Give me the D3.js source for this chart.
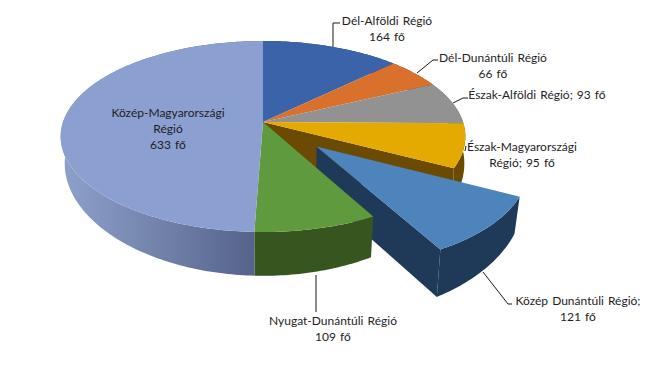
<!DOCTYPE html>
<html>
<head>
<meta charset="utf-8">
<script src="https://cdn.jsdelivr.net/npm/d3@7"></script>
<style>
	html, body { margin: 0; padding: 0; background: #fff; }
	svg { display: block; }
	text { font-family: Lato, "Open Sans", sans-serif; font-size: 12px; word-spacing: 1px; fill: #1d1d25; dominant-baseline: central; text-anchor: middle; }
</style>
</head>
<body>
<div id="chart"></div>
<script>
const regions = ['Dél-Alföldi Régió', 'Dél-Dunántúli Régió', 'Észak-Alföldi Régió', 'Észak-Magyarországi Régió', 'Közép Dunántúli Régió', 'Nyugat-Dunántúli Régió', 'Közép-Magyarországi Régió'];
const people = [164, 66, 93, 95, 121, 109, 633];
const topColors = ['#3a63a9', '#d9702b', '#929292', '#e5aa02', '#4d84bc', '#5f9a3e', '#8b9fd0'];
const sideColors = ['#23406e', '#8a4414', '#5c5c5c', '#6b4a02', '#1f3a58', '#37561f', 'url(#side-fade)'];
const explode = [0, 0, 0, 0, 0.36, 0, 0];

// label lines, one entry per region
const labelLines = [
	['Dél-Alföldi Régió', '164 fő'],
	['Dél-Dunántúli Régió', '66 fő'],
	['Észak-Alföldi Régió; 93 fő'],
	['Észak-Magyarországi', 'Régió; 95 fő'],
	['Közép Dunántúli Régió;', '121 fő'],
	['Nyugat-Dunántúli Régió', '109 fő'],
	['Közép-Magyarországi', 'Régió', '633 fő']
];
// where the labels sit, and their leader lines
const labelLayout = [
	{ x: 387, y: 20, leader: [[333, 47], [333, 23], [340, 23]] },
	{ x: 493, y: 57, leader: [[417, 73], [433, 60], [438, 60]] },
	{ x: 537, y: 94, leader: [[453, 103], [463, 98], [468, 98]] },
	{ x: 522, y: 146, leader: [[465, 151], [466, 146]] },
	{ x: 578, y: 300, leader: [[483, 272], [508, 304], [512, 304]] },
	{ x: 333, y: 320, leader: [[316, 275], [316, 312]] },
	{ x: 168, y: 112, leader: null }
];

const width = 645;
const height = 376;
const lineGap = 16;

// perspective of the tilted disc
const tilt = 0.152;
const depth = 25;
const depthPower = 3.4;
const apexDepth = 44;
const shrink = [0.98, 0.98, 0.98, 0.995, 0.98, 0.98, 0.98];

const x = d3.scaleLinear().domain([-1, 1]).range([63, 463]);
const y = d3.scaleLinear().domain([-1, 1]).range([28.7, 215.3]);

const svg = d3.select('#chart').append('svg')
	.attr('width', width)
	.attr('height', height);

const fade = svg.append('defs').append('linearGradient')
	.attr('id', 'side-fade')
	.attr('gradientUnits', 'userSpaceOnUse')
	.attr('x1', 60).attr('x2', 255).attr('y1', 0).attr('y2', 0);
fade.append('stop').attr('offset', 0).attr('stop-color', '#8fa2cc');
fade.append('stop').attr('offset', 1).attr('stop-color', '#55638a');

const slices = d3.pie().sort(null).value(d => d)(people);

function project(px, py) {
	const w = 1 - tilt * py;
	return [x(px / w), y(py / w)];
}

// same point on the underside of slice i
function projectLow(px, py, i) {
	const w = 1 - tilt * py;
	const [sx, sy] = project(px, py);
	return [x(0) + shrink[i] * (sx - x(0)), sy + depth / Math.pow(w, depthPower)];
}

function centerOf(s, i) {
	const mid = (s.startAngle + s.endAngle) / 2;
	return [explode[i] * Math.sin(mid), -explode[i] * Math.cos(mid)];
}

function rim(s, i, low) {
	const [ox, oy] = centerOf(s, i);
	const steps = Math.ceil((s.endAngle - s.startAngle) * 60);
	return d3.range(steps + 1).map(k => {
		const a = s.startAngle + (s.endAngle - s.startAngle) * k / steps;
		const px = ox + Math.sin(a);
		const py = oy - Math.cos(a);
		return low ? projectLow(px, py, i) : project(px, py);
	});
}

const shape = d3.line();

function drawTop(s, i) {
	const [ox, oy] = centerOf(s, i);
	svg.append('path')
		.attr('d', shape([project(ox, oy), ...rim(s, i, false)]) + 'Z')
		.attr('fill', topColors[i]);
}

function drawSide(s, i) {
	svg.append('path')
		.attr('d', shape([...rim(s, i, false), ...rim(s, i, true).reverse()]) + 'Z')
		.attr('fill', sideColors[i]);
}

// radial wall at the end of the slice
function drawWall(s, i) {
	const [ox, oy] = centerOf(s, i);
	const ex = ox + Math.sin(s.endAngle);
	const ey = oy - Math.cos(s.endAngle);
	const apex = project(ox, oy);
	svg.append('path')
		.attr('d', shape([apex, project(ex, ey), projectLow(ex, ey, i), [apex[0], apex[1] + apexDepth]]) + 'Z')
		.attr('fill', sideColors[i]);
}

const pulled = 4;

// back slices first, the pulled slice sits behind the green one
[0, 1, 2, 3].forEach(i => drawSide(slices[i], i));
drawWall(slices[3], 3);

drawWall(slices[pulled], pulled);
drawSide(slices[pulled], pulled);
drawTop(slices[pulled], pulled);

[5, 6].forEach(i => drawSide(slices[i], i));
slices.forEach((s, i) => { if (i !== pulled) drawTop(s, i); });

// Labels
labelLayout.forEach((d, i) => {
	if (d.leader) {
		svg.append('path')
			.attr('d', shape(d.leader))
			.attr('fill', 'none')
			.attr('stroke', '#1a1a1a')
			.attr('stroke-width', 1);
	}
	labelLines[i].forEach((line, k) => {
		svg.append('text')
			.attr('x', d.x)
			.attr('y', d.y + k * lineGap)
			.text(line);
	});
});
</script>
</body>
</html>
